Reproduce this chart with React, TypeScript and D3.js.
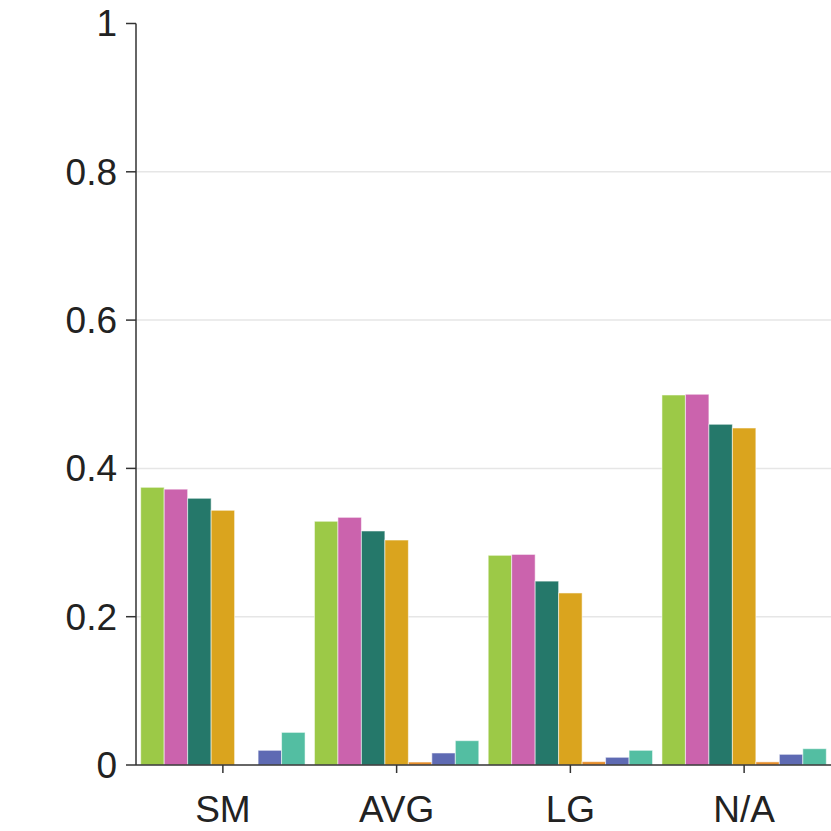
import React from "react";
import * as d3 from "d3";

const categories = ["SM", "AVG", "LG", "N/A"];
const seriesNames = ["s1", "s2", "s3", "s4", "s5", "s6", "s7"];
const seriesColors = ["#9CC947", "#CB63AD", "#25786A", "#DAA41E", "#E68E2B", "#5E6AB3", "#53BEA2"];
const values: number[][] = [
  [0.3745, 0.372, 0.3597, 0.3435, 0.0, 0.0198, 0.044],
  [0.3287, 0.334, 0.3156, 0.3034, 0.004, 0.0162, 0.0328],
  [0.2828, 0.284, 0.248, 0.232, 0.0045, 0.0104, 0.0198],
  [0.499, 0.5, 0.4595, 0.4545, 0.0042, 0.0144, 0.022],
];
const yTicks = [0, 0.2, 0.4, 0.6, 0.8, 1];

export default function App() {
  const W = 831, H = 831;
  const left = 136, right = 831, top = 23.5, bottom = 765;
  const x = d3.scaleBand<string>().domain(categories).range([left, right]).padding(0);
  const inner = d3.scaleBand<string>().domain(seriesNames).range([0, x.bandwidth()]).paddingOuter(0.2).paddingInner(0);
  const y = d3.scaleLinear().domain([0, 1]).range([bottom, top]);
  const font = "'Liberation Sans', Arial, sans-serif";
  return (
    <svg width={W} height={H} style={{ position: "absolute", left: 0, top: 0, background: "#fff" }}>
      {yTicks.filter((t) => t > 0 && t < 1).map((t) => (
        <line key={"g" + t} x1={left} x2={right} y1={y(t)} y2={y(t)} stroke="#e6e6e6" strokeWidth={1.5} />
      ))}
      {categories.map((c, ci) => (
        <g key={c} transform={`translate(${x(c)},0)`}>
          {seriesNames.map((s, si) => {
            const v = values[ci][si];
            if (v <= 0) return null;
            return (
              <rect
                key={s}
                x={inner(s)!}
                width={inner.bandwidth()}
                y={y(v)}
                height={y(0) - y(v)}
                fill={seriesColors[si]}
                stroke="rgba(255,255,255,0.55)"
                strokeWidth={1}
              />
            );
          })}
        </g>
      ))}
      <line x1={left} x2={left} y1={top} y2={bottom} stroke="#333" strokeWidth={1.5} />
      <line x1={left} x2={right} y1={bottom} y2={bottom} stroke="#333" strokeWidth={1.5} />
      {yTicks.map((t) => (
        <g key={"t" + t}>
          <line x1={left - 10} x2={left} y1={y(t)} y2={y(t)} stroke="#333" strokeWidth={1.5} />
          <text x={left - 19} y={y(t)} dy="0.35em" textAnchor="end" fontSize={37} fontFamily={font} fill="#222">
            {d3.format("~g")(t)}
          </text>
        </g>
      ))}
      {categories.map((c) => {
        const cx = x(c)! + x.bandwidth() / 2;
        return (
          <g key={"x" + c}>
            <line x1={cx} x2={cx} y1={bottom} y2={bottom + 8} stroke="#333" strokeWidth={1.5} />
            <text x={cx} y={821.5} textAnchor="middle" fontSize={37} fontFamily={font} fill="#222">
              {c}
            </text>
          </g>
        );
      })}
    </svg>
  );
}
